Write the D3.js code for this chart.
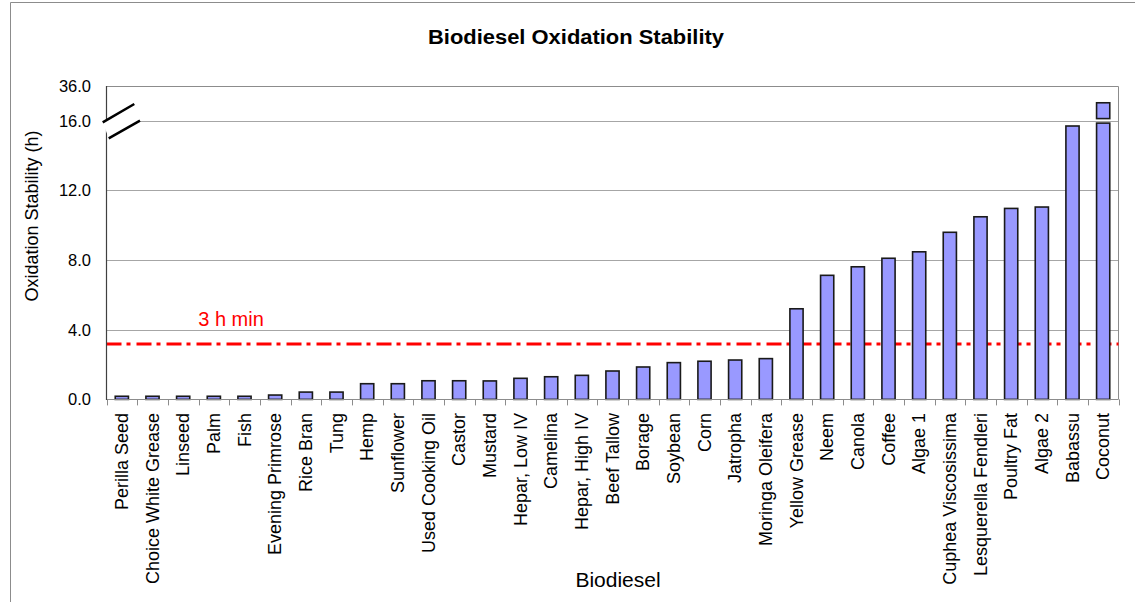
<!DOCTYPE html>
<html>
<head>
<meta charset="utf-8">
<script src="https://cdn.jsdelivr.net/npm/d3@7"></script>
<style>
  html, body { margin: 0; padding: 0; background: #fff; }
  svg { display: block; font-family: "Liberation Sans", Arial, sans-serif; }
</style>
</head>
<body>
<svg id="chart" width="1135" height="602"></svg>
<script>
// ---- data ----
const categories = ["Perilla Seed", "Choice White Grease", "Linseed", "Palm", "Fish",
  "Evening Primrose", "Rice Bran", "Tung", "Hemp", "Sunflower", "Used Cooking Oil",
  "Castor", "Mustard", "Hepar, Low IV", "Camelina", "Hepar, High IV", "Beef Tallow",
  "Borage", "Soybean", "Corn", "Jatropha", "Moringa Oleifera", "Yellow Grease", "Neem",
  "Canola", "Coffee", "Algae 1", "Cuphea Viscosissima", "Lesquerella Fendleri",
  "Poultry Fat", "Algae 2", "Babassu", "Coconut"];
const stability = [0.18, 0.18, 0.18, 0.18, 0.18, 0.25, 0.42, 0.42, 0.90, 0.90, 1.07,
  1.07, 1.06, 1.21, 1.30, 1.38, 1.63, 1.86, 2.11, 2.19, 2.26, 2.34, 5.20, 7.12,
  7.61, 8.10, 8.47, 9.59, 10.48, 10.96, 11.04, 15.69, 26.3];
const lowerTicks = [0, 4, 8, 12, 16];
const upperTicks = [36];
const breakValue = 16;
const upperMax = 36;
const minLimit = 3.18;
const minLabel = "3 h min";
const title = "Biodiesel Oxidation Stability";
const xTitle = "Biodiesel";
const yTitle = "Oxidation Stability (h)";

// ---- layout ----
const svg = d3.select("#chart");
const plotL = 106.5, plotR = 1118.5, plotB = 399.4, breakY = 120.6, plotT = 86;

const x = d3.scaleBand().domain(categories).range([plotL, plotR])
  .paddingInner(0.57).paddingOuter(0.285);
const yLow = d3.scaleLinear().domain([0, breakValue]).range([plotB, breakY]);
const yTop = d3.scaleLinear().domain([breakValue, upperMax]).range([breakY, plotT]);

// outer chart border
svg.append("path")
  .attr("d", `M10.5,602 L10.5,2.5 L1135,2.5`)
  .attr("fill", "none").attr("stroke", "#8c8c8c").attr("stroke-width", 1);

// title
svg.append("text").attr("x", 576).attr("y", 44).attr("text-anchor", "middle")
  .attr("font-size", 20).attr("font-weight", "bold").attr("fill", "#000")
  .attr("textLength", 296).attr("lengthAdjust", "spacingAndGlyphs").text(title);

// gridlines
svg.append("g").selectAll("line").data(lowerTicks.filter(d => d > 0)).join("line")
  .attr("x1", plotL).attr("x2", plotR)
  .attr("y1", d => Math.round(yLow(d)) + 0.5).attr("y2", d => Math.round(yLow(d)) + 0.5)
  .attr("stroke", "#a6a6a6").attr("stroke-width", 1);

// plot frame top + right
svg.append("path")
  .attr("d", `M${plotL},${plotT + 0.5} L${plotR},${plotT + 0.5} L${plotR},${plotB}`)
  .attr("fill", "none").attr("stroke", "#8c8c8c").attr("stroke-width", 1);

// min line
svg.append("line").attr("x1", plotL).attr("x2", plotR)
  .attr("y1", yLow(minLimit)).attr("y2", yLow(minLimit))
  .attr("stroke", "#ff0000").attr("stroke-width", 3)
  .attr("stroke-dasharray", "15,5,4,6");
svg.append("text").attr("x", 231).attr("y", 326).attr("text-anchor", "middle")
  .attr("font-size", 20).attr("fill", "#ff0000").text(minLabel);

// bars (lower segment)
const bars = categories.map((c, i) => ({ c, v: stability[i] }));
svg.append("g").selectAll("rect").data(bars).join("rect")
  .attr("x", d => x(d.c))
  .attr("width", x.bandwidth())
  .attr("y", d => d.v > breakValue ? yLow(breakValue) + 2.5 : yLow(d.v))
  .attr("height", d => plotB - (d.v > breakValue ? yLow(breakValue) + 2.5 : yLow(d.v)))
  .attr("fill", "#9999ff").attr("stroke", "#1a1a1a").attr("stroke-width", 1.6);

// bars (upper segment)
svg.append("g").selectAll("rect").data(bars.filter(d => d.v > breakValue)).join("rect")
  .attr("x", d => x(d.c))
  .attr("width", x.bandwidth())
  .attr("y", d => yTop(d.v))
  .attr("height", d => yTop(breakValue) - 2 - yTop(d.v))
  .attr("fill", "#9999ff").attr("stroke", "#1a1a1a").attr("stroke-width", 1.6);

// x axis baseline
svg.append("line").attr("x1", plotL).attr("x2", plotR)
  .attr("y1", Math.round(plotB) + 0.5).attr("y2", Math.round(plotB) + 0.5)
  .attr("stroke", "#8c8c8c").attr("stroke-width", 1);
// x ticks at band boundaries
const step = x.step();
const bounds = d3.range(categories.length + 1).map(i => plotL + i * step);
svg.append("g").selectAll("line").data(bounds).join("line")
  .attr("x1", d => Math.round(d) + 0.5).attr("x2", d => Math.round(d) + 0.5)
  .attr("y1", plotB).attr("y2", plotB + 6)
  .attr("stroke", "#8c8c8c").attr("stroke-width", 1);

// x labels
svg.append("g").selectAll("text").data(categories).join("text")
  .attr("transform", d => `translate(${x(d) + x.bandwidth() / 2 + 6.3},413) rotate(-90)`)
  .attr("text-anchor", "end").attr("font-size", 18).attr("fill", "#000")
  .text(d => d);

// y axis line with break
svg.append("line").attr("x1", plotL).attr("x2", plotL)
  .attr("y1", plotT).attr("y2", Math.round(plotB) + 1)
  .attr("stroke", "#404040").attr("stroke-width", 1.2);

// y tick labels
svg.append("g").selectAll("text").data(lowerTicks).join("text")
  .attr("x", 91).attr("y", d => yLow(d)).attr("dy", "0.36em")
  .attr("text-anchor", "end").attr("font-size", 16.5).attr("fill", "#000")
  .text(d => d3.format(".1f")(d));
svg.append("g").selectAll("text").data(upperTicks).join("text")
  .attr("x", 91).attr("y", d => yTop(d)).attr("dy", "0.36em")
  .attr("text-anchor", "end").attr("font-size", 16.5).attr("fill", "#000")
  .text(d => d3.format(".1f")(d));

// break symbol
const by = yLow(breakValue);
svg.append("path")
  .attr("d", `M102.7,${by + 1.7} L134.3,${by - 16.6} L140,${by + 0.1} L108.7,${by + 17.7} Z`)
  .attr("fill", "#fff").attr("stroke", "none");
svg.append("path")
  .attr("d", `M102.7,${by + 1.7} L134.3,${by - 16.6} M108.7,${by + 17.7} L140,${by + 0.1}`)
  .attr("fill", "none").attr("stroke", "#000").attr("stroke-width", 2.5);

// axis titles
svg.append("text").attr("transform", `translate(38,216) rotate(-90)`)
  .attr("text-anchor", "middle").attr("font-size", 18).attr("fill", "#000").text(yTitle);
svg.append("text").attr("x", 618).attr("y", 587).attr("text-anchor", "middle")
  .attr("font-size", 21).attr("fill", "#000").text(xTitle);
</script>
</body>
</html>
